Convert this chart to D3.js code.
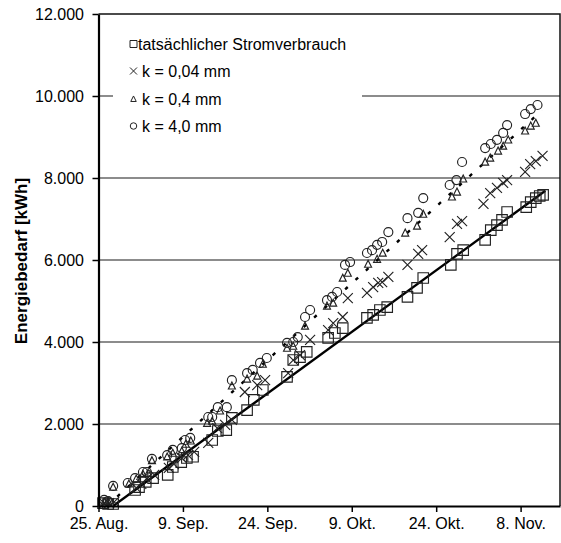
<!DOCTYPE html>
<html>
<head>
<meta charset="utf-8">
<script src="https://cdn.jsdelivr.net/npm/d3@7"></script>
<style>
  body { margin: 0; background: #fff; }
  svg { display: block; }
  text { font-family: "Liberation Sans", Arial, sans-serif; fill: #000; }
</style>
</head>
<body>
<svg id="chart" width="561" height="543"></svg>
<script>
// Zeitachse: Tage seit dem 25. August
const xTickDays = [0, 15, 30, 45, 60, 75];
const xTickLabels = ["25. Aug.", "9. Sep.", "24. Sep.", "9. Okt.", "24. Okt.", "8. Nov."];
const yTickValues = [0, 2000, 4000, 6000, 8000, 10000, 12000];
const yTickLabels = ["0", "2.000", "4.000", "6.000", "8.000", "10.000", "12.000"];

// tatsächlicher Stromverbrauch (kumuliert, kWh)
const measuredDays = [0.8, 1.7, 2.6, 6.5, 7.2, 8.4, 9.7, 12.3, 13.2, 14.7, 15.7, 16.8, 20.2, 21.2, 22.7, 23.7, 26.4, 27.6, 29.2, 33.5, 34.6, 35.8, 37.0, 40.8, 42.0, 43.4, 47.7, 48.8, 50.0, 51.3, 54.9, 56.6, 57.7, 62.6, 63.7, 64.8, 68.7, 69.7, 70.8, 71.7, 72.6, 76.0, 76.8, 77.7, 78.4, 79.0];
const measuredKWh = [70, 50, 50, 390, 460, 590, 680, 760, 950, 1070, 1170, 1200, 1610, 1830, 1850, 2150, 2340, 2590, 2830, 3150, 3560, 3630, 3760, 4100, 4220, 4340, 4590, 4660, 4780, 4850, 5100, 5320, 5560, 5880, 6150, 6240, 6490, 6730, 6850, 6980, 7170, 7290, 7410, 7510, 7560, 7590];

// Simulation k = 0,04 mm
const k004Days = [1.0, 1.9, 2.8, 6.7, 7.6, 8.6, 9.9, 12.5, 13.4, 14.8, 15.9, 17.0, 19.5, 21.1, 22.5, 23.7, 26.0, 28.2, 29.6, 33.7, 34.6, 35.8, 37.6, 40.8, 41.7, 43.4, 44.3, 47.7, 48.8, 49.7, 50.4, 51.5, 54.9, 56.8, 57.5, 62.4, 63.7, 64.6, 68.4, 69.6, 70.8, 71.9, 72.6, 75.8, 76.7, 77.7, 78.9];
const k004KWh = [70, 70, 100, 440, 540, 660, 760, 930, 1020, 1170, 1240, 1320, 1540, 1900, 1980, 2100, 2780, 2950, 3070, 3240, 3560, 3680, 4050, 4290, 4460, 4610, 5070, 5200, 5340, 5440, 5460, 5590, 5880, 6150, 6240, 6560, 6880, 6950, 7370, 7630, 7760, 7880, 7950, 8150, 8340, 8410, 8540];

// Simulation k = 0,4 mm
const k04Days = [1.0, 1.7, 2.6, 5.4, 6.7, 7.9, 8.8, 9.5, 12.2, 13.2, 14.8, 15.5, 16.4, 19.3, 20.2, 21.6, 23.7, 26.4, 28.2, 29.2, 33.5, 34.6, 36.7, 40.6, 41.7, 43.4, 44.3, 47.9, 49.5, 50.5, 54.5, 56.6, 57.7, 62.8, 63.7, 64.8, 68.7, 69.6, 71.0, 71.9, 72.8, 75.8, 76.8, 77.7];
const k04KWh = [100, 120, 460, 540, 660, 780, 800, 1110, 1200, 1290, 1340, 1510, 1590, 2020, 2070, 2320, 2930, 3100, 3170, 3460, 3850, 3900, 4390, 4880, 4950, 5560, 5680, 5900, 6020, 6170, 6660, 6830, 7120, 7540, 7660, 7980, 8390, 8490, 8660, 8780, 8930, 9150, 9270, 9340];

// Simulation k = 4,0 mm
const k40Days = [1.0, 1.7, 2.6, 5.2, 6.5, 7.9, 8.6, 9.5, 12.2, 13.2, 14.8, 15.4, 16.3, 19.5, 20.2, 21.2, 22.8, 23.7, 26.4, 27.4, 28.7, 29.9, 33.5, 34.6, 35.4, 36.7, 37.6, 40.6, 41.5, 42.4, 43.8, 44.7, 47.7, 48.6, 49.5, 50.4, 51.5, 54.9, 56.8, 57.7, 62.4, 63.6, 64.6, 68.7, 69.7, 70.8, 71.9, 72.6, 75.8, 76.8, 78.0];
const k40KWh = [150, 120, 490, 560, 680, 830, 830, 1150, 1240, 1370, 1410, 1610, 1660, 2170, 2170, 2410, 2410, 3070, 3240, 3320, 3490, 3610, 3980, 4000, 4120, 4610, 4780, 5020, 5100, 5220, 5880, 5950, 6170, 6240, 6370, 6440, 6680, 7020, 7150, 7510, 7830, 7950, 8390, 8730, 8830, 8930, 9100, 9290, 9560, 9680, 9780];

// lineare Trendlinien (Anfangs- und Endpunkt)
const measuredTrendDays = [2.6, 79.4];
const measuredTrendKWh = [0, 7690];
const simTrendDays = [1.5, 78.8];
const simTrendKWh = [0, 9650];

const legendLabels = ["tatsächlicher Stromverbrauch", "k = 0,04 mm", "k = 0,4 mm", "k = 4,0 mm"];

const svg = d3.select("#chart");
const x = d3.scaleLinear().domain([0, 82]).range([98.5, 560]);
const y = d3.scaleLinear().domain([0, 12000]).range([506, 14]);

// horizontale Gitterlinien
svg.append("g")
  .selectAll("line")
  .data(yTickValues.filter(v => v > 0 && v < 12000))
  .join("line")
  .attr("x1", x(0)).attr("x2", x(82))
  .attr("y1", d => y(d)).attr("y2", d => y(d))
  .attr("stroke", "#666").attr("stroke-width", 1.3);

// Rahmen oben und rechts
svg.append("path")
  .attr("d", `M${x(0)},${y(12000)}H${x(82)}V${y(0)}`)
  .attr("fill", "none").attr("stroke", "#111").attr("stroke-width", 1.5);

const zip = (a, b) => a.map((d, i) => [d, b[i]]);

// Trendlinien
const line = d3.line().x(d => x(d[0])).y(d => y(d[1]));
svg.append("path")
  .datum(zip(simTrendDays, simTrendKWh))
  .attr("d", line)
  .attr("fill", "none").attr("stroke", "#000")
  .attr("stroke-width", 2.4).attr("stroke-dasharray", "3.5,10.5");
svg.append("path")
  .datum(zip(measuredTrendDays, measuredTrendKWh))
  .attr("d", line)
  .attr("fill", "none").attr("stroke", "#000").attr("stroke-width", 2.3);

// Markerformen
const markerPath = {
  square: s => `M${-s / 2},${-s / 2}h${s}v${s}h${-s}Z`,
  cross: s => `M${-s / 2},${-s / 2}L${s / 2},${s / 2}M${s / 2},${-s / 2}L${-s / 2},${s / 2}`,
  triangle: s => `M0,${-s * 0.55}L${s / 2},${s * 0.45}L${-s / 2},${s * 0.45}Z`,
  circle: s => `M${s / 2},0A${s / 2},${s / 2} 0 1,1 ${-s / 2},0A${s / 2},${s / 2} 0 1,1 ${s / 2},0Z`
};

function drawSeries(days, kwh, shape, size) {
  svg.append("g")
    .selectAll("path")
    .data(zip(days, kwh))
    .join("path")
    .attr("transform", d => `translate(${x(d[0])},${y(d[1])})`)
    .attr("d", markerPath[shape](size))
    .attr("fill", "none").attr("stroke", "#222").attr("stroke-width", 1.15);
}

drawSeries(measuredDays, measuredKWh, "square", 10.5);
drawSeries(k004Days, k004KWh, "cross", 10);
drawSeries(k04Days, k04KWh, "triangle", 7);
drawSeries(k40Days, k40KWh, "circle", 9);

// Achsen
const yAxis = d3.axisLeft(y)
  .tickValues(yTickValues)
  .tickFormat((d, i) => yTickLabels[i])
  .tickSize(6).tickSizeOuter(0).tickPadding(8.5);
const gy = svg.append("g").attr("transform", `translate(${x(0)},0)`).call(yAxis);

const xAxis = d3.axisBottom(x)
  .tickValues(xTickDays)
  .tickFormat((d, i) => xTickLabels[i])
  .tickSize(6).tickSizeOuter(0).tickPadding(6);
const gx = svg.append("g").attr("transform", `translate(0,${y(0)})`).call(xAxis);

[gx, gy].forEach(g => {
  g.select(".domain").attr("stroke", "#000").attr("stroke-width", 2.2);
  g.selectAll(".tick line").attr("stroke", "#000").attr("stroke-width", 1.5);
  g.selectAll(".tick text").attr("font-size", 16).attr("font-family", '"Liberation Sans", Arial, sans-serif').attr("fill", "#000");
});

// Achsentitel
svg.append("text")
  .attr("transform", `translate(27,${y(6000) + 1}) rotate(-90)`)
  .attr("text-anchor", "middle")
  .attr("font-size", 17).attr("font-weight", "bold")
  .text("Energiebedarf [kWh]");

// Legende
const legend = svg.append("g");
legend.append("rect")
  .attr("x", 113).attr("y", y(12000) + 1.5).attr("width", 249).attr("height", 125)
  .attr("fill", "#fff");
const legendShapes = [["square", 7], ["cross", 7], ["triangle", 5.5], ["circle", 6.5]];
const legendRows = [44, 71, 99, 126];
legendLabels.forEach((label, i) => {
  const [shape, size] = legendShapes[i];
  legend.append("path")
    .attr("transform", `translate(133.5,${legendRows[i]})`)
    .attr("d", markerPath[shape](size))
    .attr("fill", "none").attr("stroke", "#222").attr("stroke-width", 1);
  legend.append("text")
    .attr("x", i === 0 ? 138 : 142).attr("y", legendRows[i] + 5.5)
    .attr("font-size", 16)
    .text(label);
});
</script>
</body>
</html>
